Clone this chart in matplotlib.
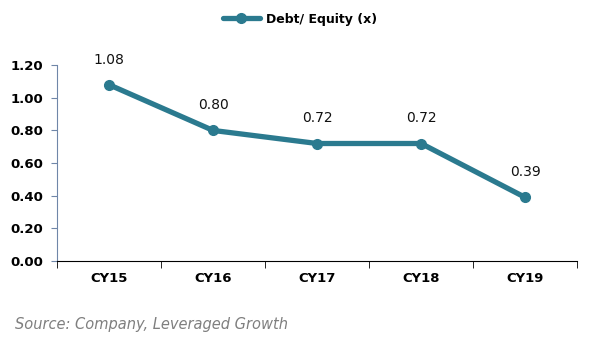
"""Debt/Equity line chart."""

import matplotlib as mpl

mpl.use("Agg")
import matplotlib.pyplot as plt

years = ["CY15", "CY16", "CY17", "CY18", "CY19"]
debt_equity = [1.08, 0.80, 0.72, 0.72, 0.39]
yticks = [0.0, 0.2, 0.4, 0.6, 0.8, 1.0, 1.2]

line_color = "#2b7a8f"

plt.rcParams["font.family"] = ["DejaVu Sans"]

fig = plt.figure(figsize=(6, 3.5), dpi=100)
ax = fig.add_axes([0.095, 0.254, 0.867, 0.56])

x = list(range(len(years)))
(ln,) = ax.plot(x, debt_equity, color=line_color, linewidth=3.8, marker="o",
                markersize=7, solid_capstyle="round", label="Debt/ Equity (x)")

for xi, v in zip(x, debt_equity):
    ax.annotate(f"{v:.2f}", (xi, v), xytext=(0, 13), textcoords="offset points",
                ha="center", va="bottom", fontsize=10, color="#111111")

ax.set_xlim(-0.5, len(years) - 0.5)
ax.set_ylim(0, 1.2)
ax.set_yticks(yticks)
ax.set_yticklabels([f"{t:.2f}" for t in yticks], fontsize=9.5, fontweight="bold")

# category ticks sit between the categories
ax.set_xticks(x)
ax.set_xticklabels(years, fontsize=9.5, fontweight="bold")
ax.tick_params(axis="x", length=0, pad=8)
ax.set_xticks([i - 0.5 for i in range(len(years) + 1)], minor=True)
ax.tick_params(axis="x", which="minor", length=5, direction="out", color="black")
ax.tick_params(axis="y", length=4, direction="out", color="#6f86a8", pad=6)

for side in ["top", "right"]:
    ax.spines[side].set_visible(False)
ax.spines["left"].set_color("#6f86a8")
ax.spines["bottom"].set_color("black")

fig.legend(handles=[ln], loc="center", bbox_to_anchor=(0.5, 0.945), frameon=False,
           prop={"weight": "bold", "size": 9}, handlelength=3.0, handletextpad=0.5)

fig.text(0.025, 0.06, "Source: Company, Leveraged Growth", fontsize=10.5,
         style="italic", color="#7f7f7f")

fig.savefig("out.png", dpi=100)
